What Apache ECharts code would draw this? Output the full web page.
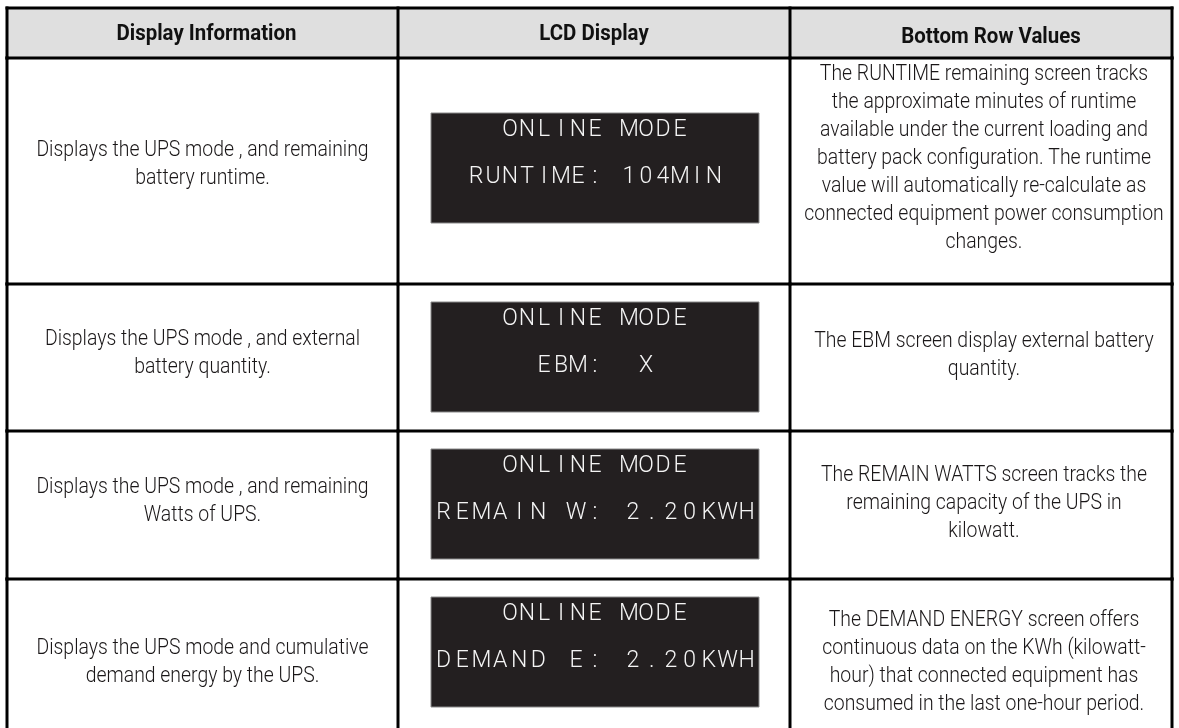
<!DOCTYPE html>
<html>
<head>
<meta charset="utf-8">
<script src="https://cdn.jsdelivr.net/npm/echarts@6/dist/echarts.min.js"></script>
<style>
html,body{margin:0;padding:0;background:#ffffff;}
#chart{width:1179px;height:728px;}
</style>
</head>
<body>
<div id="chart"></div>
<script>
// ---------------- DATA ----------------
const columns = ['Display Information', 'LCD Display', 'Bottom Row Values'];

const displayInfo = [
  ['Displays the UPS mode , and remaining', 'battery runtime.'],
  ['Displays the UPS mode , and external', 'battery quantity.'],
  ['Displays the UPS mode , and remaining', 'Watts of UPS.'],
  ['Displays the UPS mode and cumulative', 'demand energy by the UPS.']
];

const lcdTopLine = ['ONLINE MODE', 'ONLINE MODE', 'ONLINE MODE', 'ONLINE MODE'];
const lcdBottomLine = ['RUNTIME: 104MIN', 'EBM:  X', 'REMAIN W: 2.20KWH', 'DEMAND E: 2.20KWH'];

const bottomRowValues = [
  ['The RUNTIME remaining screen tracks',
   'the approximate minutes of runtime',
   'available under the current loading and',
   'battery pack configuration. The runtime',
   'value will automatically re-calculate as',
   'connected equipment power consumption',
   'changes.'],
  ['The EBM screen display external battery',
   'quantity.'],
  ['The REMAIN WATTS screen tracks the',
   'remaining capacity of the UPS in',
   'kilowatt.'],
  ['The DEMAND ENERGY screen offers',
   'continuous data on the KWh (kilowatt-',
   'hour) that connected equipment has',
   'consumed in the last one-hour period.']
];

// ---------------- LAYOUT ----------------
const W = 1179, H = 728;
const colEdges = [7, 398, 790, 1172];
const tableTop = 8;
const headerH = 50;
const rowHeights = [226, 147, 148, 167];
const lineGap = 28;
const infoShift = [-7, -4, -4, 0];
const valueShift = [-13, -2, -2, 0];
const headerShiftX = [4, 0, 10];
const headerY = [34, 34, 37];
const lcdW = 328, lcdH = 110;
const lcdLine1Dy = 17, lcdLine2Dy = 64;
const borderW = 3;

const bodyFamily = "Roboto,'Liberation Sans',sans-serif";
const bodySize = 22, bodyWeight = 300;
const headFamily = "Roboto,'Liberation Sans',sans-serif";
const headSize = 22, headWeight = 'bold';
const lcdFamily = "Roboto,'DejaVu Sans',sans-serif";
const textColor = '#1a1718';

// horizontal condensing factors (emulate a condensed face)
const mctx = document.createElement('canvas').getContext('2d');
function measure(s, font) { mctx.font = font; return mctx.measureText(s).width; }
const bodyFont = bodyWeight + ' ' + bodySize + 'px ' + bodyFamily;
const bodyScale = (347 / measure('connected equipment power consumption', bodyFont) +
                   326 / measure('Displays the UPS mode , and external', bodyFont)) / 2;
const headScale = 180 / measure('Display Information', headWeight + ' ' + headSize + 'px ' + headFamily);

function rowTop(i) {
  let t = tableTop + headerH;
  for (let k = 0; k < i; k++) t += rowHeights[k];
  return t;
}

function renderItem(params, api) {
  const idx = api.value(0);
  const P = (x, y) => api.coord([x, y]);
  const children = [];
  const line = (x1, y1, x2, y2) => {
    const a = P(x1, y1), b = P(x2, y2);
    children.push({type: 'line', shape: {x1: a[0], y1: a[1], x2: b[0], y2: b[1]},
      style: {stroke: '#000', lineWidth: borderW, lineCap: 'square'}});
  };
  const txt = (s, x, y, opt, scale) => {
    const p = P(x, y);
    children.push({type: 'text', x: p[0], y: p[1], scaleX: scale || 1, scaleY: 1,
      style: Object.assign({
        text: s, x: 0, y: 0, align: 'center', verticalAlign: 'middle',
        fill: textColor, fontFamily: bodyFamily, fontSize: bodySize, fontWeight: bodyWeight
      }, opt || {})});
  };

  if (idx === 0) {
    const a = P(colEdges[0], tableTop), b = P(colEdges[3], tableTop + headerH);
    children.push({type: 'rect', shape: {x: a[0], y: a[1], width: b[0] - a[0], height: b[1] - a[1]},
      style: {fill: '#dfdfdf'}});
    for (let c = 0; c < 3; c++) {
      txt(columns[c], (colEdges[c] + colEdges[c + 1]) / 2 + headerShiftX[c], headerY[c],
        {fontWeight: headWeight, fontSize: headSize, fontFamily: headFamily, fill: '#111'}, headScale);
    }
    line(colEdges[0], tableTop, colEdges[3], tableTop);
    line(colEdges[0], tableTop + headerH, colEdges[3], tableTop + headerH);
    colEdges.forEach(x => line(x, tableTop, x, tableTop + headerH));
  } else {
    const r = idx - 1;
    const top = rowTop(r), h = rowHeights[r], bottom = top + h;
    // LCD box
    const cx = (colEdges[1] + colEdges[2]) / 2 + 1;
    const boxTop = top + (h > 200 ? (h - lcdH) / 2 - 3 : 18);
    const a = P(cx - lcdW / 2, boxTop), b = P(cx + lcdW / 2, boxTop + lcdH);
    children.push({type: 'rect', shape: {x: a[0], y: a[1], width: b[0] - a[0], height: b[1] - a[1]},
      style: {fill: '#231f20', stroke: '#8a8a8a', lineWidth: 1}});
    [[lcdTopLine[r], lcdLine1Dy], [lcdBottomLine[r], lcdLine2Dy]].forEach(([s, dy]) => {
      const n = s.length;
      const adv = n >= 16 ? (lcdW - 6) / n : 17;
      const start = cx - adv * n / 2;
      for (let k = 0; k < n; k++) {
        if (s[k] === ' ') continue;
        txt(s[k], start + adv * (k + 0.5), boxTop + dy,
          {fill: '#f4f4f4', fontFamily: lcdFamily, fontWeight: 300, fontSize: 23});
      }
    });
    // Display information column
    const info = displayInfo[r];
    const c1 = (colEdges[0] + colEdges[1]) / 2;
    const m1 = top + h / 2 + infoShift[r];
    info.forEach((s, j) => txt(s, c1, m1 + (j - (info.length - 1) / 2) * lineGap, null, bodyScale));
    // Bottom row values column
    const vals = bottomRowValues[r];
    const c3 = (colEdges[2] + colEdges[3]) / 2 + 3;
    const m3 = top + h / 2 + valueShift[r];
    vals.forEach((s, j) => txt(s, c3, m3 + (j - (vals.length - 1) / 2) * lineGap, null, bodyScale));
    // borders
    line(colEdges[0], bottom, colEdges[3], bottom);
    colEdges.forEach(x => line(x, top, x, bottom));
  }
  return {type: 'group', children};
}

const chart = echarts.init(document.getElementById('chart'), null, {renderer: 'canvas'});
chart.setOption({
  animation: false,
  backgroundColor: '#ffffff',
  grid: {left: 0, right: 0, top: 0, bottom: 0},
  xAxis: {type: 'value', min: 0, max: W, show: false},
  yAxis: {type: 'value', min: 0, max: H, inverse: true, show: false},
  series: [{
    type: 'custom',
    silent: true,
    clip: false,
    renderItem: renderItem,
    data: [0, 1, 2, 3, 4].map(i => [i]),
    encode: {x: 0, y: 0}
  }]
});
</script>
</body>
</html>
